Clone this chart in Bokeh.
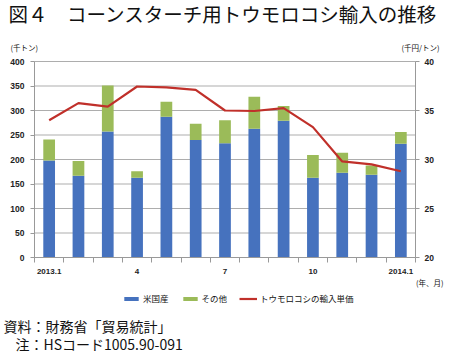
from bokeh.plotting import figure
from bokeh.models import (Range1d, LinearAxis, FixedTicker, Legend,
                          LegendItem, ColumnDataSource, Label)
from bokeh.embed import file_html
from bokeh.resources import INLINE

# ---- data ----
months = ["2013.1", "2", "3", "4", "5", "6", "7", "8", "9", "10", "11", "12", "2014.1"]
us_imports = [198, 167, 257, 163, 287, 240, 233, 263, 279, 163, 173, 169, 232]
total_imports = [241, 197, 351, 176, 318, 273, 280, 328, 309, 209, 214, 188, 256]
other_imports = [t - u for t, u in zip(total_imports, us_imports)]
unit_price = [34.0, 35.75, 35.4, 37.45, 37.35, 37.1, 35.0, 34.95, 35.25, 33.3, 29.8, 29.5, 28.8]
label_positions = [0, 3, 6, 9, 12]
label_texts = ["2013.1", "4", "7", "10", "2014.1"]
left_ticks = [0, 50, 100, 150, 200, 250, 300, 350, 400]
right_ticks = [20, 25, 30, 35, 40]
series_names = ["米国産", "その他", "トウモロコシの輸入単価"]
title_text = "図４　コーンスターチ用トウモロコシ輸入の推移"
unit_left = "(千トン)"
unit_right = "(千円/トン)"
unit_x = "(年、月)"
source_text = "資料：財務省「貿易統計」"
note_text = "注：HSコード1005.90-091"

BLUE = "#4672BE"
GREEN = "#9BBB59"
RED = "#C0302A"
AXIS = "#999999"
GRID = "#ADADAD"
TXT = "#111111"
JP = "Noto Sans CJK JP"
NUM = "Liberation Sans"

W, H = 450, 361
# plot area in page pixels
PA_L, PA_R, PA_T, PA_B = 34, 415, 61, 257

n = len(months)
x_lo, x_hi = -0.5, n - 0.5
y_lo, y_hi = 0, 400
p_lo, p_hi = 20, 40
xs = (x_hi - x_lo) / (PA_R - PA_L)
ys = (y_hi - y_lo) / (PA_B - PA_T)
ps = (p_hi - p_lo) / (PA_B - PA_T)

x_range = Range1d(x_lo - PA_L * xs, x_hi + (W - PA_R) * xs)
y_range = Range1d(y_lo - (H - PA_B) * ys, y_hi + PA_T * ys)
p_range = Range1d(p_lo - (H - PA_B) * ps, p_hi + PA_T * ps)


def dx(X):
    return x_range.start + X * xs


def dy(Y):
    return y_range.end - Y * ys


src = ColumnDataSource(dict(x=list(range(n)), us=us_imports,
                            other=other_imports, price=unit_price))

p = figure(width=W, height=H, x_range=x_range, y_range=y_range, title=None,
           x_axis_type=None, y_axis_type=None,
           output_backend="svg", toolbar_location=None, min_border=0)
p.outline_line_color = None
p.extra_y_ranges = {"price": p_range}

# horizontal grid lines at the left-axis ticks
p.segment(x0=x_lo, x1=x_hi, y0=left_ticks, y1=left_ticks,
          line_color=GRID, line_width=1)

bars = p.vbar_stack(["us", "other"], x="x", width=0.4, color=[BLUE, GREEN],
                    line_color=None, source=src)
ln = p.line("x", "price", y_range_name="price", source=src, line_color=RED,
            line_width=2.2)

# axes drawn at fixed locations around the plot area
xa = LinearAxis(fixed_location=y_lo, bounds=(x_lo, x_hi),
                ticker=FixedTicker(ticks=label_positions,
                                   minor_ticks=[i - 0.5 for i in range(n + 1)]))
xa.major_label_overrides = {k: v for k, v in zip(label_positions, label_texts)}
xa.major_tick_line_color = None
xa.major_tick_in = 0
xa.major_tick_out = 0
xa.minor_tick_line_color = AXIS
xa.minor_tick_in = 0
xa.minor_tick_out = 5
xa.major_label_standoff = 6
xa.major_label_text_font_size = "8px"
p.add_layout(xa, "below")

ya = LinearAxis(fixed_location=x_lo, bounds=(y_lo, y_hi),
                ticker=FixedTicker(ticks=left_ticks))
ya.major_label_standoff = 6
ya.major_label_text_font_size = "8.5px"
p.add_layout(ya, "left")

ra = LinearAxis(fixed_location=x_hi, bounds=(p_lo, p_hi), y_range_name="price",
                ticker=FixedTicker(ticks=right_ticks))
ra.major_label_standoff = 5
ra.major_label_text_font_size = "8.5px"
p.add_layout(ra, "right")

for ax in (ya, ra):
    ax.major_tick_in = 0
    ax.major_tick_out = 4
    ax.minor_tick_line_color = None
    ax.major_tick_line_color = AXIS
for ax in (xa, ya, ra):
    ax.axis_line_color = AXIS
    ax.major_label_text_font = NUM
    ax.major_label_text_font_style = "bold"
    ax.major_label_text_color = "#222222"


def put(text, X, Y, size, align="left"):
    p.add_layout(Label(x=dx(X), y=dy(Y), text=text, text_font=JP,
                       text_font_size=size, text_align=align,
                       text_baseline="middle", text_color=TXT))


put(title_text, 8, 13, "19.5px")
put(unit_left, 10, 47, "7.5px")
put(unit_right, 401, 47, "7.5px")
put(unit_x, 443, 282, "7.5px", align="right")
put(source_text, 3, 325, "14px")
put(note_text, 15, 343, "14px")

legend = Legend(items=[LegendItem(label=series_names[0], renderers=[bars[0]]),
                       LegendItem(label=series_names[1], renderers=[bars[1]]),
                       LegendItem(label=series_names[2], renderers=[ln])],
                orientation="horizontal", location=(122, H - 298 - 6))
legend.glyph_width = 18
legend.glyph_height = 5
legend.label_height = 12
legend.label_standoff = 3
legend.spacing = 12
legend.padding = 0
legend.margin = 0
legend.border_line_color = None
legend.background_fill_alpha = 0
legend.label_text_font = JP
legend.label_text_font_size = "8.5px"
legend.label_text_color = TXT
p.add_layout(legend)

open("out.html", "w").write(file_html(p, INLINE))
